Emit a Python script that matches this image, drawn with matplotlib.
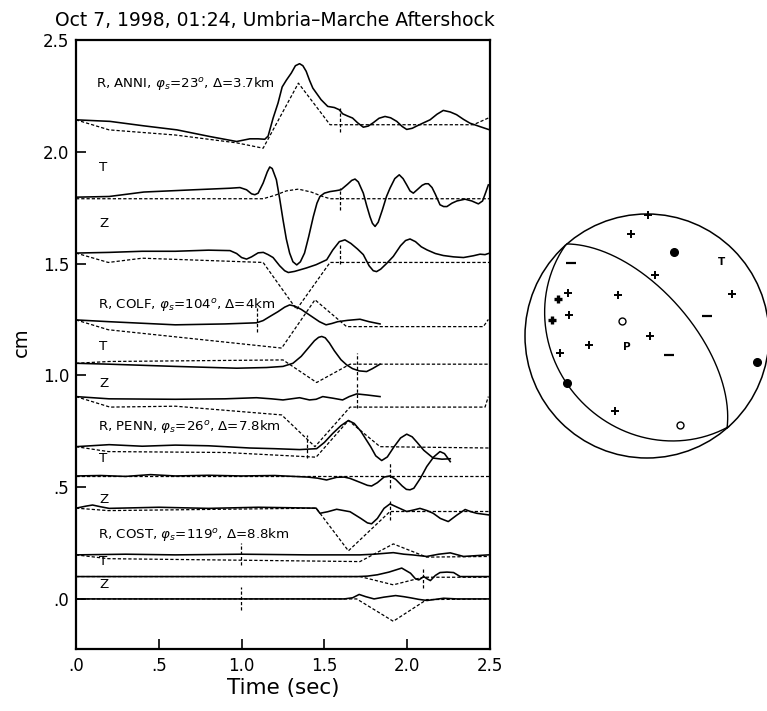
import matplotlib as mpl

mpl.use("Agg")
import matplotlib.pyplot as plt
import numpy as np
from matplotlib.patches import Circle

# Waveforms as (time [s], displacement [cm]) pairs, already offset per trace.
# *_OBS = recorded (solid), *_SYN = synthetic (dashed).
ANNI_R_OBS = [(0.00, 2.143), (0.205, 2.136), (0.41, 2.116), (0.61, 2.098), (0.81, 2.068),
              (0.97, 2.046), (1.01, 2.052), (1.05, 2.058), (1.10, 2.058), (1.14, 2.056),
              (1.16, 2.07), (1.19, 2.15), (1.22, 2.218), (1.245, 2.29), (1.27, 2.32),
              (1.30, 2.352), (1.325, 2.385), (1.35, 2.394), (1.37, 2.385), (1.39, 2.36),
              (1.41, 2.32), (1.43, 2.285), (1.48, 2.233), (1.52, 2.203), (1.56, 2.198),
              (1.59, 2.188), (1.61, 2.17), (1.64, 2.16), (1.67, 2.151), (1.70, 2.13),
              (1.735, 2.11), (1.765, 2.115), (1.795, 2.13), (1.83, 2.15), (1.866, 2.158),
              (1.90, 2.152), (1.937, 2.136), (1.97, 2.113), (1.997, 2.10), (2.03, 2.105),
              (2.057, 2.115), (2.10, 2.13), (2.138, 2.143), (2.18, 2.168), (2.218, 2.185),
              (2.26, 2.178), (2.298, 2.166), (2.34, 2.145), (2.379, 2.128), (2.43, 2.115),
              (2.47, 2.105), (2.49, 2.10)]
ANNI_R_SYN = [(0.00, 2.143), (0.20, 2.098), (0.60, 2.075), (0.97, 2.04), (1.13, 2.016),
              (1.343, 2.307), (1.45, 2.203), (1.534, 2.121), (2.40, 2.121), (2.49, 2.151)]
ANNI_T_OBS = [(0.00, 1.797), (0.20, 1.80), (0.41, 1.82), (0.71, 1.83), (0.93, 1.837),
              (0.99, 1.84), (1.03, 1.83), (1.06, 1.812), (1.08, 1.808), (1.10, 1.815),
              (1.13, 1.86), (1.155, 1.91), (1.17, 1.932), (1.185, 1.925), (1.21, 1.875),
              (1.23, 1.79), (1.25, 1.696), (1.27, 1.61), (1.29, 1.547), (1.31, 1.508),
              (1.333, 1.494), (1.355, 1.508), (1.38, 1.547), (1.405, 1.62), (1.433, 1.71),
              (1.455, 1.77), (1.473, 1.80), (1.50, 1.815), (1.534, 1.822), (1.57, 1.826),
              (1.60, 1.83), (1.64, 1.855), (1.665, 1.872), (1.685, 1.878), (1.705, 1.865),
              (1.735, 1.815), (1.755, 1.76), (1.775, 1.71), (1.79, 1.68), (1.806, 1.666),
              (1.825, 1.685), (1.85, 1.74), (1.875, 1.80), (1.896, 1.837), (1.925, 1.88),
              (1.952, 1.897), (1.975, 1.88), (1.997, 1.852), (2.017, 1.825), (2.037, 1.815),
              (2.06, 1.83), (2.09, 1.85), (2.11, 1.857), (2.128, 1.857), (2.15, 1.84),
              (2.17, 1.81), (2.198, 1.763), (2.22, 1.755), (2.24, 1.755), (2.27, 1.77),
              (2.30, 1.78), (2.349, 1.788), (2.39, 1.78), (2.43, 1.767), (2.455, 1.78),
              (2.475, 1.82), (2.49, 1.852)]
ANNI_T_SYN = [(0.00, 1.79), (1.13, 1.79), (1.20, 1.805), (1.27, 1.825), (1.343, 1.833),
              (1.42, 1.82), (1.49, 1.80), (1.534, 1.79), (2.50, 1.79)]
ANNI_Z_OBS = [(0.00, 1.547), (0.20, 1.55), (0.40, 1.555), (0.60, 1.555), (0.80, 1.56),
              (0.93, 1.558), (0.97, 1.545), (1.00, 1.527), (1.03, 1.52), (1.06, 1.53),
              (1.10, 1.548), (1.131, 1.55), (1.16, 1.54), (1.19, 1.527), (1.23, 1.49),
              (1.26, 1.468), (1.282, 1.46), (1.32, 1.465), (1.39, 1.48), (1.45, 1.495),
              (1.514, 1.517), (1.55, 1.56), (1.59, 1.598), (1.624, 1.606), (1.66, 1.59),
              (1.70, 1.565), (1.735, 1.54), (1.77, 1.49), (1.795, 1.468), (1.815, 1.464),
              (1.84, 1.475), (1.875, 1.50), (1.916, 1.532), (1.96, 1.58), (1.99, 1.603),
              (2.017, 1.61), (2.05, 1.598), (2.085, 1.575), (2.12, 1.561), (2.17, 1.545),
              (2.218, 1.536), (2.28, 1.53), (2.34, 1.527), (2.40, 1.535), (2.44, 1.542),
              (2.47, 1.54), (2.49, 1.545)]
ANNI_Z_SYN = [(0.00, 1.547), (0.195, 1.505), (0.40, 1.524), (1.13, 1.505), (1.332, 1.295),
              (1.534, 1.505), (2.50, 1.505)]

COLF_R_OBS = [(0.00, 1.248), (0.20, 1.24), (0.60, 1.226), (0.90, 1.23), (1.09, 1.235),
              (1.13, 1.245), (1.17, 1.263), (1.22, 1.285), (1.26, 1.305), (1.29, 1.315),
              (1.32, 1.31), (1.36, 1.295), (1.39, 1.28), (1.43, 1.26), (1.47, 1.24),
              (1.51, 1.226), (1.545, 1.232), (1.58, 1.24), (1.64, 1.246), (1.715, 1.251),
              (1.77, 1.24), (1.836, 1.23)]
COLF_R_SYN = [(0.00, 1.248), (0.195, 1.204), (1.242, 1.122), (1.443, 1.338), (1.634, 1.218),
              (2.46, 1.218), (2.49, 1.25)]
COLF_T_OBS = [(0.00, 1.054), (0.20, 1.05), (0.60, 1.04), (0.97, 1.032), (1.15, 1.035),
              (1.25, 1.04), (1.31, 1.054), (1.36, 1.085), (1.40, 1.12), (1.44, 1.155),
              (1.465, 1.17), (1.484, 1.174), (1.505, 1.168), (1.53, 1.145), (1.56, 1.11),
              (1.60, 1.07), (1.634, 1.047), (1.67, 1.03), (1.71, 1.02), (1.755, 1.017),
              (1.79, 1.03), (1.836, 1.05)]
COLF_T_SYN = [(0.00, 1.054), (0.20, 1.062), (1.25, 1.069), (1.453, 0.968), (1.655, 1.05),
              (2.50, 1.05)]
COLF_Z_OBS = [(0.00, 0.905), (0.20, 0.895), (0.60, 0.893), (0.90, 0.895), (1.09, 0.90),
              (1.18, 0.895), (1.25, 0.89), (1.30, 0.895), (1.35, 0.90), (1.41, 0.89),
              (1.45, 0.893), (1.49, 0.905), (1.55, 0.898), (1.61, 0.89), (1.65, 0.905),
              (1.695, 0.917), (1.76, 0.912), (1.836, 0.905)]
COLF_Z_SYN = [(0.00, 0.905), (0.205, 0.858), (0.60, 0.862), (1.242, 0.823), (1.443, 0.681),
              (1.655, 0.858), (2.47, 0.858), (2.49, 0.905)]

PENN_R_OBS = [(0.00, 0.681), (0.20, 0.69), (0.40, 0.683), (0.60, 0.688), (0.80, 0.685),
              (1.05, 0.675), (1.20, 0.672), (1.35, 0.668), (1.453, 0.672), (1.50, 0.70),
              (1.55, 0.74), (1.60, 0.775), (1.645, 0.798), (1.68, 0.785), (1.72, 0.75),
              (1.75, 0.715), (1.78, 0.68), (1.81, 0.64), (1.846, 0.619), (1.88, 0.635),
              (1.92, 0.68), (1.96, 0.72), (1.997, 0.737), (2.03, 0.725), (2.06, 0.70),
              (2.10, 0.665), (2.157, 0.63), (2.21, 0.625), (2.26, 0.627)]
PENN_R_SYN = [(0.00, 0.681), (0.195, 0.659), (0.90, 0.655), (1.45, 0.634), (1.645, 0.798),
              (1.836, 0.681), (2.50, 0.675)]
PENN_T_OBS = [(0.00, 0.55), (0.15, 0.552), (0.30, 0.548), (0.45, 0.556), (0.60, 0.55),
              (0.80, 0.553), (1.00, 0.55), (1.20, 0.552), (1.40, 0.545), (1.46, 0.54),
              (1.513, 0.532), (1.574, 0.544), (1.62, 0.545), (1.655, 0.539), (1.72, 0.52),
              (1.76, 0.508), (1.785, 0.505), (1.82, 0.52), (1.86, 0.545), (1.896, 0.55),
              (1.93, 0.535), (1.97, 0.505), (1.995, 0.49), (2.017, 0.488), (2.04, 0.495),
              (2.08, 0.54), (2.118, 0.592), (2.16, 0.635), (2.198, 0.659), (2.225, 0.65),
              (2.245, 0.63), (2.26, 0.614)]
PENN_T_SYN = [(0.00, 0.55), (2.50, 0.55)]
PENN_Z_OBS = [(0.00, 0.406), (0.06, 0.415), (0.10, 0.42), (0.15, 0.412), (0.20, 0.405),
              (0.50, 0.41), (0.80, 0.405), (1.10, 0.41), (1.45, 0.406), (1.473, 0.383),
              (1.52, 0.39), (1.574, 0.401), (1.655, 0.39), (1.72, 0.36), (1.76, 0.34),
              (1.785, 0.336), (1.82, 0.36), (1.86, 0.405), (1.896, 0.425), (1.94, 0.41),
              (1.997, 0.391), (2.04, 0.398), (2.077, 0.405), (2.12, 0.395), (2.157, 0.383),
              (2.20, 0.36), (2.248, 0.346), (2.30, 0.375), (2.35, 0.40), (2.385, 0.39),
              (2.42, 0.383), (2.49, 0.376)]
PENN_Z_SYN = [(0.00, 0.406), (0.195, 0.395), (1.45, 0.406), (1.645, 0.215), (1.896, 0.391),
              (2.50, 0.391)]

COST_R_OBS = [(0.00, 0.197), (0.30, 0.20), (0.60, 0.197), (1.00, 0.20), (1.40, 0.197),
              (1.715, 0.197), (1.80, 0.20), (1.916, 0.207), (1.98, 0.20), (2.03, 0.197),
              (2.118, 0.19), (2.19, 0.20), (2.26, 0.206), (2.30, 0.198), (2.34, 0.19),
              (2.49, 0.197)]
COST_R_SYN = [(0.00, 0.197), (0.195, 0.18), (1.715, 0.167), (1.916, 0.246), (2.118, 0.187),
              (2.50, 0.19)]
COST_T_OBS = [(0.00, 0.10), (1.70, 0.10), (1.76, 0.102), (1.82, 0.108), (1.89, 0.12),
              (1.967, 0.138), (2.02, 0.115), (2.05, 0.09), (2.07, 0.085), (2.10, 0.10),
              (2.12, 0.09), (2.14, 0.082), (2.17, 0.105), (2.198, 0.118), (2.24, 0.12),
              (2.28, 0.118), (2.32, 0.10), (2.49, 0.10)]
COST_T_SYN = [(0.00, 0.10), (1.715, 0.10), (1.916, 0.063), (2.097, 0.097), (2.50, 0.097)]
COST_Z_OBS = [(0.00, 0.0), (1.62, 0.0), (1.67, 0.005), (1.71, 0.02), (1.75, 0.01),
              (1.80, 0.0), (1.86, 0.008), (1.93, 0.015), (1.98, 0.01), (2.02, 0.005),
              (2.07, -0.002), (2.12, -0.007), (2.17, -0.002), (2.22, 0.003), (2.30, 0.0),
              (2.49, 0.0)]
COST_Z_SYN = [(0.00, 0.0), (1.695, 0.0), (1.916, -0.10), (2.118, -0.003), (2.50, 0.0)]

OBS = [ANNI_R_OBS, ANNI_T_OBS, ANNI_Z_OBS, COLF_R_OBS, COLF_T_OBS, COLF_Z_OBS,
       PENN_R_OBS, PENN_T_OBS, PENN_Z_OBS, COST_R_OBS, COST_T_OBS, COST_Z_OBS]
SYN = [ANNI_R_SYN, ANNI_T_SYN, ANNI_Z_SYN, COLF_R_SYN, COLF_T_SYN, COLF_Z_SYN,
       PENN_R_SYN, PENN_T_SYN, PENN_Z_SYN, COST_R_SYN, COST_T_SYN, COST_Z_SYN]

# S-arrival picks: time, lower and upper end of the tick (cm)
PICK_T = [1.594, 1.594, 1.594, 1.095, 1.695, 1.695, 1.397, 1.896, 1.896, 0.994, 2.097, 0.994]
PICK_LO = [2.09, 1.74, 1.50, 1.195, 0.98, 0.855, 0.631, 0.497, 0.353, 0.152, 0.048, -0.05]
PICK_HI = [2.196, 1.84, 1.59, 1.30, 1.10, 0.966, 0.734, 0.608, 0.443, 0.252, 0.145, 0.054]

# Trace annotations
LABEL_TEXT = [r"R, ANNI, $\varphi_s$=23$^o$, $\Delta$=3.7km", "T", "Z",
              r"R, COLF, $\varphi_s$=104$^o$, $\Delta$=4km", "T", "Z",
              r"R, PENN, $\varphi_s$=26$^o$, $\Delta$=7.8km", "T", "Z",
              r"R, COST, $\varphi_s$=119$^o$, $\Delta$=8.8km", "T", "Z"]
LABEL_T = [0.12, 0.14, 0.14, 0.13, 0.14, 0.14, 0.13, 0.14, 0.14, 0.13, 0.14, 0.14]
LABEL_Y = [2.307, 1.93, 1.68, 1.315, 1.13, 0.965, 0.771, 0.63, 0.445, 0.287, 0.167, 0.063]

TICKS = [0.0, 0.5, 1.0, 1.5, 2.0, 2.5]
TICK_LABELS = [".0", ".5", "1.0", "1.5", "2.0", "2.5"]

# Focal mechanism: nodal planes (strike, dip in degrees), lower hemisphere
PLANE_STRIKE = [319, 138]
PLANE_DIP = [61, 25]
# First-motion polarities in projected unit-circle coordinates
PLUS_XY = [(0.01, 0.99), (-0.134, 0.834), (0.066, 0.50), (0.694, 0.344), (-0.235, 0.336),
           (-0.65, 0.355), (-0.637, 0.172), (0.025, 0.0), (-0.473, -0.074),
           (-0.713, -0.142), (-0.262, -0.612)]
PLUS_BOLD_XY = [(-0.732, 0.303), (-0.776, 0.131)]
MINUS_XY = [(-0.623, 0.596), (0.489, 0.164), (0.18, -0.156)]
FILLED_XY = [(0.224, 0.691), (0.899, -0.21), (-0.658, -0.388)]
OPEN_XY = [(-0.202, 0.125), (0.27, -0.73)]
AXIS_LABELS = [("T", 0.612, 0.609), ("P", -0.166, -0.088)]

FONT = "DejaVu Sans"
DASH = (0, (2.6, 1.6))


def draw_trace(ax, pts, dashed):
    t, y = zip(*pts)
    if dashed:
        ax.plot(t, y, color="black", lw=0.9, ls=DASH)
    else:
        ax.plot(t, y, color="black", lw=1.15, solid_joinstyle="round")


def nodal_curve(strike, dip, n=181):
    """Equal-area lower-hemisphere trace of a plane given strike/dip (degrees)."""
    s, d = np.radians(strike), np.radians(dip)
    lam = np.linspace(0.0, np.pi, n)
    sv = np.array([np.sin(s), np.cos(s), 0.0])
    dd = s + np.pi / 2
    dv = np.array([np.cos(d) * np.sin(dd), np.cos(d) * np.cos(dd), np.sin(d)])
    v = np.outer(np.cos(lam), sv) + np.outer(np.sin(lam), dv)
    plunge = np.arcsin(np.clip(v[:, 2], -1, 1))
    trend = np.arctan2(v[:, 0], v[:, 1])
    r = np.sqrt(2) * np.sin((np.pi / 2 - plunge) / 2)
    return r * np.sin(trend), r * np.cos(trend)


def seismogram_panel(fig):
    ax = fig.add_axes([76 / 767, 1 - 649 / 711, 414 / 767, 609 / 711])
    for pts in OBS:
        draw_trace(ax, pts, False)
    for pts in SYN:
        draw_trace(ax, pts, True)
    ax.vlines(PICK_T, PICK_LO, PICK_HI, colors="black", lw=0.9, linestyles=DASH)
    for txt, t, y in zip(LABEL_TEXT, LABEL_T, LABEL_Y):
        ax.text(t, y, txt, fontsize=9.6, va="center", ha="left")

    ax.set_xlim(0.0, 2.5)
    ax.set_ylim(-0.224, 2.5)
    ax.set_xticks(TICKS)
    ax.set_xticklabels(TICK_LABELS)
    ax.set_yticks(TICKS)
    ax.set_yticklabels(TICK_LABELS)
    ax.tick_params(direction="in", length=7, width=1.2, labelsize=12)
    ax.tick_params(axis="x", pad=6)
    ax.tick_params(axis="y", pad=5)
    for sp in ax.spines.values():
        sp.set_linewidth(1.6)
    ax.set_xlabel("Time (sec)", fontsize=15.5, labelpad=2)
    return ax


def mechanism_panel(fig):
    ax = fig.add_axes([512.8 / 767, 1 - 470.2 / 711, 268.4 / 767, 268.4 / 711])
    ax.set_xlim(-1.1, 1.1)
    ax.set_ylim(-1.1, 1.1)
    ax.set_aspect("equal")
    ax.axis("off")
    ax.add_patch(Circle((0, 0), 1.0, fill=False, lw=1.1, color="black"))
    for s, d in zip(PLANE_STRIKE, PLANE_DIP):
        x, y = nodal_curve(s, d)
        ax.plot(x, y, color="black", lw=1.0)
    px, py = zip(*PLUS_XY)
    ax.plot(px, py, "+", color="black", ms=6, mew=1.4, ls="none")
    bx, by = zip(*PLUS_BOLD_XY)
    ax.plot(bx, by, "+", color="black", ms=6, mew=2.4, ls="none")
    mx, my = zip(*MINUS_XY)
    ax.plot(mx, my, "_", color="black", ms=7, mew=1.6, ls="none")
    fx, fy = zip(*FILLED_XY)
    ax.plot(fx, fy, "o", color="black", ms=5.5, ls="none")
    ox, oy = zip(*OPEN_XY)
    ax.plot(ox, oy, "o", mfc="white", mec="black", ms=5, mew=1.0, ls="none")
    for txt, x, y in AXIS_LABELS:
        ax.text(x, y, txt, fontsize=7.5, fontweight="bold", ha="center", va="center")


def main():
    plt.rcParams.update({"font.family": FONT, "mathtext.fontset": "dejavusans"})
    fig = plt.figure(figsize=(7.67, 7.11), dpi=100, facecolor="white")
    seismogram_panel(fig)
    mechanism_panel(fig)
    fig.text(55 / 767, 1 - 26 / 711, "Oct 7, 1998, 01:24, Umbria\u2013Marche Aftershock",
             fontsize=13.5, va="baseline", ha="left")
    fig.text(21 / 767, 1 - 342 / 711, "cm", fontsize=14, rotation=90, ha="center", va="center")
    fig.savefig("out.png", dpi=100, facecolor="white")
    plt.close(fig)


if __name__ == "__main__":
    main()
